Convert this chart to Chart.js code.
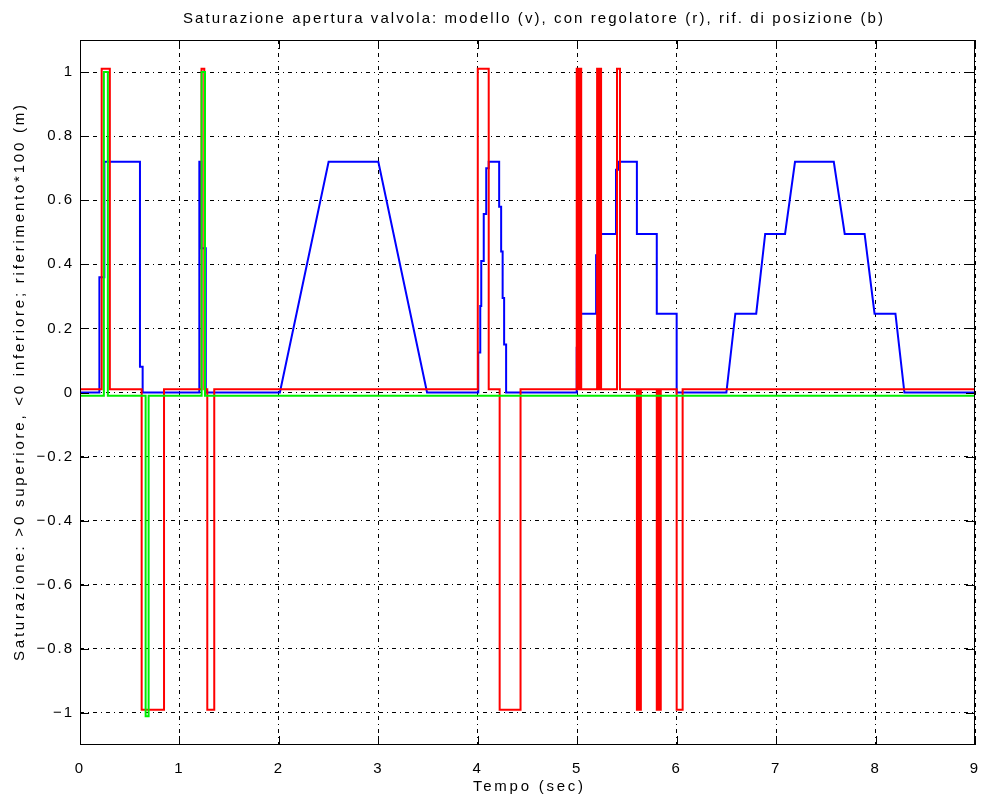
<!DOCTYPE html>
<html>
<head>
<meta charset="utf-8">
<script src="https://cdn.jsdelivr.net/npm/chart.js@4.4.1/dist/chart.umd.min.js"></script>
<style>
  html, body { margin: 0; padding: 0; background: #fff; }
  canvas { display: block; }
</style>
</head>
<body>
<canvas id="satChart" width="981" height="805"></canvas>
<script>
  // axis ticks
  const xTicks = [0, 1, 2, 3, 4, 5, 6, 7, 8, 9];
  const yTicks = [-1, -0.8, -0.6, -0.4, -0.2, 0, 0.2, 0.4, 0.6, 0.8, 1];
  const yTickLabels = ['\u22121', '\u22120.8', '\u22120.6', '\u22120.4', '\u22120.2', '0', '0.2', '0.4', '0.6', '0.8', '1'];

  // modello (v) - green, change points (value holds until next time)
  const greenT = [0, 0.24, 0.28, 0.66, 0.69, 1.223, 1.257, 9];
  const greenV = [-0.01, 1.0, -0.01, -1.01, -0.01, 1.0, -0.01, -0.01];

  // con regolatore (r) - red, change points
  const redT = [0, 0.218, 0.30, 0.62, 0.845, 1.222, 1.25, 1.28, 1.35,
    4.0, 4.11, 4.22, 4.43,
    4.995, 5.015, 5.02, 5.04, 5.2, 5.215, 5.22, 5.24, 5.40, 5.43,
    5.6, 5.615, 5.62, 5.64, 5.8, 5.815, 5.82, 5.84, 6.0, 6.06, 9];
  const redV = [0.01, 1.01, 0.01, -0.99, 0.01, 1.01, 0.01, -0.99, 0.01,
    1.01, 0.01, -0.99, 0.01,
    1.01, 0.01, 1.01, 0.01, 1.01, 0.01, 1.01, 0.01, 1.01, 0.01,
    -0.99, 0.01, -0.99, 0.01, -0.99, 0.01, -0.99, 0.01, -0.99, 0.01, 0.01];

  // rif. di posizione (b) - blue, polyline points
  const blueT = [0, 0.195, 0.195, 0.245, 0.245, 0.603, 0.603, 0.63, 0.63,
    1.2, 1.2, 1.22, 1.22, 1.265, 1.265,
    2.01, 2.5, 3.0, 3.49,
    4.005, 4.005, 4.025, 4.025, 4.035, 4.035, 4.06, 4.06, 4.085, 4.085, 4.11, 4.11,
    4.215, 4.215, 4.235, 4.235, 4.25, 4.25, 4.265, 4.265, 4.285, 4.285,
    4.995, 4.995, 5.03, 5.03, 5.19, 5.19, 5.23, 5.23, 5.39, 5.39, 5.42, 5.42,
    5.6, 5.6, 5.8, 5.8, 6.0, 6.0,
    6.5, 6.59, 6.80, 6.89, 7.09, 7.19, 7.58, 7.69, 7.89, 7.99, 8.20, 8.29, 9];
  const blueV = [0, 0, 0.36, 0.36, 0.72, 0.72, 0.08, 0.08, 0,
    0, 0.72, 0.72, 0.45, 0.45, 0,
    0, 0.72, 0.72, 0,
    0, 0.125, 0.125, 0.27, 0.27, 0.41, 0.41, 0.557, 0.557, 0.70, 0.70, 0.72,
    0.72, 0.58, 0.58, 0.44, 0.44, 0.295, 0.295, 0.15, 0.15, 0,
    0, 0.14, 0.14, 0.246, 0.246, 0.428, 0.428, 0.495, 0.495, 0.695, 0.695, 0.72,
    0.72, 0.495, 0.495, 0.246, 0.246, 0,
    0, 0.246, 0.246, 0.495, 0.495, 0.72, 0.72, 0.495, 0.495, 0.246, 0.246, 0, 0];

  const titleText = 'Saturazione apertura valvola: modello (v), con regolatore (r), rif. di posizione (b)';
  const xLabel = 'Tempo (sec)';
  const yLabel = 'Saturazione: >0 superiore, <0 inferiore; riferimento*100 (m)';

  const FONT = '"Liberation Sans", Arial, sans-serif';
  const toPoints = (ts, vs) => ts.map((t, i) => ({ x: t, y: vs[i] }));

  // draw a text stretched to a given width (old matlab bitmap look)
  function spreadText(ctx, text, x, y, width, rot) {
    ctx.save();
    ctx.translate(x, y);
    if (rot) ctx.rotate(rot);
    ctx.font = '15px ' + FONT;
    ctx.fillStyle = '#000';
    ctx.textAlign = 'left';
    ctx.textBaseline = 'middle';
    ctx.letterSpacing = '0px';
    const w = ctx.measureText(text).width;
    const n = text.length;
    const sp = (width - w) / (n - 1);
    ctx.letterSpacing = sp + 'px';
    ctx.fillText(text, -width / 2, 0);
    ctx.restore();
  }

  const framePlugin = {
    id: 'frame',
    beforeDraw(chart) {
      chart.ctx.letterSpacing = '2px';
    },
    beforeDatasetsDraw(chart) {
      chart.ctx.letterSpacing = '0px';
    },
    afterDraw(chart) {
      const { ctx, chartArea: a, scales } = chart;
      ctx.save();
      ctx.strokeStyle = '#000';
      ctx.lineWidth = 1;
      ctx.setLineDash([]);
      ctx.strokeRect(a.left + 0.5, a.top + 0.5, a.right - a.left - 1, a.bottom - a.top - 1);
      const tl = 9;
      ctx.beginPath();
      xTicks.forEach(t => {
        const px = Math.round(scales.x.getPixelForValue(t)) + 0.5;
        ctx.moveTo(px, a.bottom); ctx.lineTo(px, a.bottom - tl);
        ctx.moveTo(px, a.top); ctx.lineTo(px, a.top + tl);
      });
      yTicks.forEach(v => {
        const py = Math.round(scales.y.getPixelForValue(v)) + 0.5;
        ctx.moveTo(a.left, py); ctx.lineTo(a.left + tl, py);
        ctx.moveTo(a.right, py); ctx.lineTo(a.right - tl, py);
      });
      ctx.stroke();
      ctx.restore();

      spreadText(ctx, titleText, 533, 19, 700, 0);
      spreadText(ctx, xLabel, 528, 787, 110, 0);
      spreadText(ctx, yLabel, 20, 383, 556, -Math.PI / 2);
    }
  };

  const lineStyle = { pointRadius: 0, borderWidth: 2, tension: 0, fill: false };

  window.addEventListener('DOMContentLoaded', function () {
    const ctx = document.getElementById('satChart').getContext('2d');
    new Chart(ctx, {
      type: 'line',
      data: {
        datasets: [
          { label: 'modello (v)', data: toPoints(greenT, greenV), borderColor: '#00f000', stepped: 'before', ...lineStyle },
          { label: 'con regolatore (r)', data: toPoints(redT, redV), borderColor: '#ff0000', stepped: 'before', ...lineStyle },
          { label: 'rif. di posizione (b)', data: toPoints(blueT, blueV), borderColor: '#0000ff', ...lineStyle }
        ]
      },
      options: {
        responsive: false,
        animation: false,
        events: [],
        layout: { padding: { top: 40, right: 6, left: 0, bottom: 0 } },
        plugins: {
          legend: { display: false },
          tooltip: { enabled: false }
        },
        scales: {
          x: {
            type: 'linear',
            min: 0,
            max: 9,
            afterBuildTicks: s => { s.ticks = xTicks.map(v => ({ value: v })); },
            afterFit: s => { s.height = 60; s.paddingLeft = 0; s.paddingRight = 0; },
            grid: { color: '#000', lineWidth: 1, drawTicks: false },
            border: { display: false, dash: [4, 4, 1, 4] },
            ticks: {
              color: '#000',
              padding: 15,
              maxRotation: 0,
              font: { family: FONT, size: 15 },
              callback: v => String(v)
            }
          },
          y: {
            type: 'linear',
            min: -1.1,
            max: 1.1,
            afterBuildTicks: s => { s.ticks = yTicks.map(v => ({ value: v })); },
            afterFit: s => { s.width = 80; s.paddingTop = 0; s.paddingBottom = 0; },
            grid: { color: '#000', lineWidth: 1, drawTicks: false },
            border: { display: false, dash: [4, 4, 1, 4] },
            ticks: {
              color: '#000',
              padding: 6,
              font: { family: FONT, size: 15 },
              callback: (v, i) => yTickLabels[i]
            }
          }
        }
      },
      plugins: [framePlugin]
    });
  });
</script>
</body>
</html>
